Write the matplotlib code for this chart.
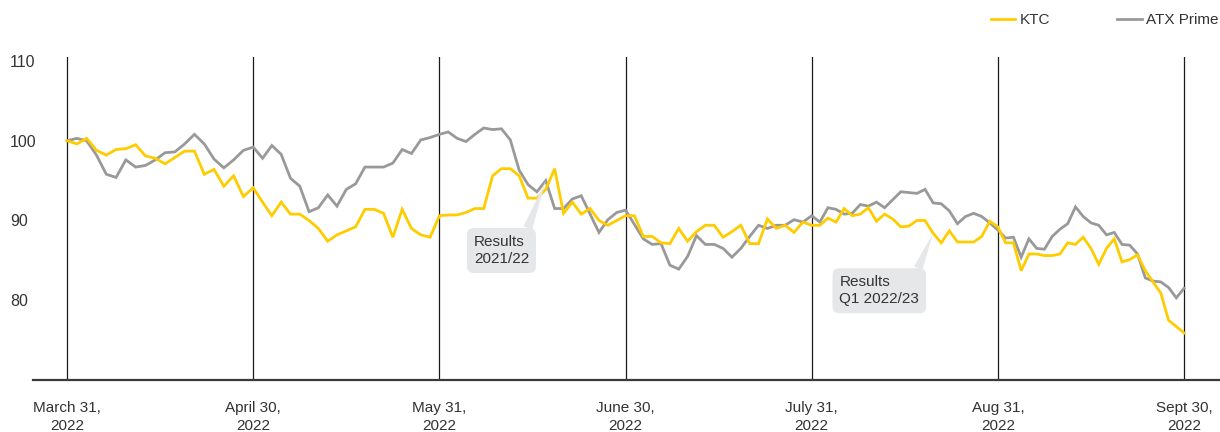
import numpy as np
import matplotlib
matplotlib.use("Agg")
import matplotlib.pyplot as plt

plt.rcParams['font.family'] = ['Liberation Sans', 'DejaVu Sans']

# --- data -------------------------------------------------------------
month_labels = ["March 31,\n2022", "April 30,\n2022", "May 31,\n2022", "June 30,\n2022",
                "July 31,\n2022", "Aug 31,\n2022", "Sept 30,\n2022"]
# number of trading-day steps drawn within each month segment
month_steps = [19, 20, 21, 21, 23, 24]

ktc = [100.0, 99.6, 100.3, 98.8, 98.2, 98.9, 99.0, 99.5, 98.1, 97.8, 97.1, 97.9, 98.7, 98.7, 95.8, 96.4, 94.3, 95.6, 93.0, 94.1,
       92.3, 90.6, 92.3, 90.8, 90.8, 90.0, 89.0, 87.4, 88.2, 88.7, 89.2, 91.4, 91.4, 90.9, 87.9, 91.4, 89.0, 88.2, 87.9, 90.6,
       90.7, 90.7, 91.0, 91.5, 91.5, 95.6, 96.5, 96.5, 95.6, 92.8, 92.8, 93.9, 96.5, 90.9, 92.3, 90.8, 91.5, 90.0, 89.4, 90.0, 90.6,
       90.6, 88.0, 88.0, 87.2, 87.1, 89.0, 87.4, 88.6, 89.4, 89.4, 87.9, 88.6, 89.4, 87.1, 87.1, 90.2, 89.0, 89.4, 88.5, 89.8, 89.4,
       89.4, 90.3, 89.8, 91.5, 90.6, 90.8, 91.6, 89.9, 90.8, 90.2, 89.2, 89.3, 90.0, 90.0, 88.4, 87.2, 88.7, 87.3, 87.3, 87.3, 88.0, 89.9, 89.2,
       87.2, 87.2, 83.7, 85.8, 85.8, 85.6, 85.6, 85.8, 87.2, 87.0, 87.9, 86.5, 84.5, 86.5, 87.7, 84.8, 85.1, 85.7, 83.7, 82.3, 80.9, 77.5, 76.7, 75.9]

atx = [100.0, 100.3, 100.0, 98.2, 95.8, 95.4, 97.6, 96.7, 96.9, 97.6, 98.5, 98.6, 99.6, 100.8, 99.6, 97.7, 96.6, 97.6, 98.8, 99.2,
       97.8, 99.4, 98.3, 95.3, 94.3, 91.1, 91.6, 93.2, 91.8, 93.9, 94.6, 96.7, 96.7, 96.7, 97.2, 98.9, 98.4, 100.1, 100.4, 100.8,
       101.1, 100.3, 99.9, 100.8, 101.6, 101.4, 101.5, 100.1, 96.3, 94.5, 93.6, 95.0, 91.5, 91.5, 92.7, 93.1, 90.8, 88.5, 90.1, 91.0, 91.3,
       89.5, 87.7, 87.0, 87.1, 84.4, 83.9, 85.5, 88.1, 87.0, 87.0, 86.5, 85.4, 86.5, 88.0, 89.4, 89.0, 89.4, 89.4, 90.1, 89.8, 90.6,
       89.8, 91.6, 91.4, 90.8, 90.9, 92.0, 91.8, 92.3, 91.6, 92.6, 93.6, 93.5, 93.4, 93.9, 92.2, 92.1, 91.2, 89.6, 90.5, 90.9, 90.5, 89.7, 88.8,
       87.8, 87.9, 85.4, 87.7, 86.5, 86.4, 88.0, 88.9, 89.6, 91.7, 90.5, 89.7, 89.4, 88.2, 88.5, 87.0, 86.9, 85.8, 82.8, 82.4, 82.3, 81.6, 80.3, 81.5]

y_ticks = [80, 90, 100, 110]
series_names = ["KTC", "ATX Prime"]
callouts = [("Results\n2021/22", "atx", 51), ("Results\nQ1 2022/23", "ktc", 96)]

# --- x positions: evenly spaced within each month segment ---------------
x = [0.0]
for m, n in enumerate(month_steps):
    x.extend(m + np.arange(1, n + 1) / n)
x = np.array(x)

YELLOW = "#FFCC00"
GREY = "#999999"
TXT = "#333333"

fig = plt.figure(figsize=(12.2, 4.32), dpi=100)
ax = fig.add_axes([33 / 1220, 1 - 380 / 432, 1 - 33 / 1220, (380 - 57) / 432])
ax.set_xlim(-0.183, 6.193)
ax.set_ylim(70, 110.5)

for m in range(len(month_labels)):
    ax.axvline(m, color="#1a1a1a", lw=0.9, zorder=1)

ax.plot(x, atx, color=GREY, lw=2.0, zorder=2, label=series_names[1], solid_joinstyle='miter')
ax.plot(x, ktc, color=YELLOW, lw=2.0, zorder=3, label=series_names[0], solid_joinstyle='miter')

for s in ["top", "right", "left"]:
    ax.spines[s].set_visible(False)
ax.spines["bottom"].set_color("#3a3a3a")
ax.spines["bottom"].set_linewidth(1.6)

ax.set_xticks(range(len(month_labels)))
ax.set_xticklabels(month_labels, fontsize=11, color=TXT, linespacing=1.35)
ax.tick_params(axis="x", length=0, pad=15)

ax.set_yticks(y_ticks)
ax.set_yticklabels([str(v) for v in y_ticks], fontsize=11.5, color=TXT)
ax.tick_params(axis="y", length=0, pad=16.5)
for lbl in ax.get_yticklabels():
    lbl.set_horizontalalignment("left")

series = {"ktc": ktc, "atx": atx}
offsets = [(-51.8, -50.3), (-67.5, -41.4)]
relx = [0.93, 0.95]
for (txt, key, idx), off, rx in zip(callouts, offsets, relx):
    ax.annotate(txt, xy=(x[idx], series[key][idx]), xytext=off, textcoords="offset points",
                ha="left", va="center", fontsize=11, color=TXT, linespacing=1.3,
                bbox=dict(boxstyle="round,pad=0.45,rounding_size=0.45", fc="#e6e7e8", ec="none"),
                arrowprops=dict(arrowstyle="wedge,tail_width=0.6,shrink_factor=0.5", fc="#e6e7e8",
                                ec="none", relpos=(rx, 1.0), shrinkA=0, shrinkB=0),
                zorder=4)

h1 = plt.Line2D([], [], color=YELLOW, lw=2.0)
h2 = plt.Line2D([], [], color=GREY, lw=2.0)
fig.legend([h1, h2], series_names, loc="center right", bbox_to_anchor=(1219 / 1220, 1 - 20 / 432),
           ncol=2, frameon=False, fontsize=11, handlelength=1.6, handletextpad=0.3,
           columnspacing=4.4, borderpad=0, borderaxespad=0, labelcolor=TXT)

fig.savefig("out.png", dpi=100)
